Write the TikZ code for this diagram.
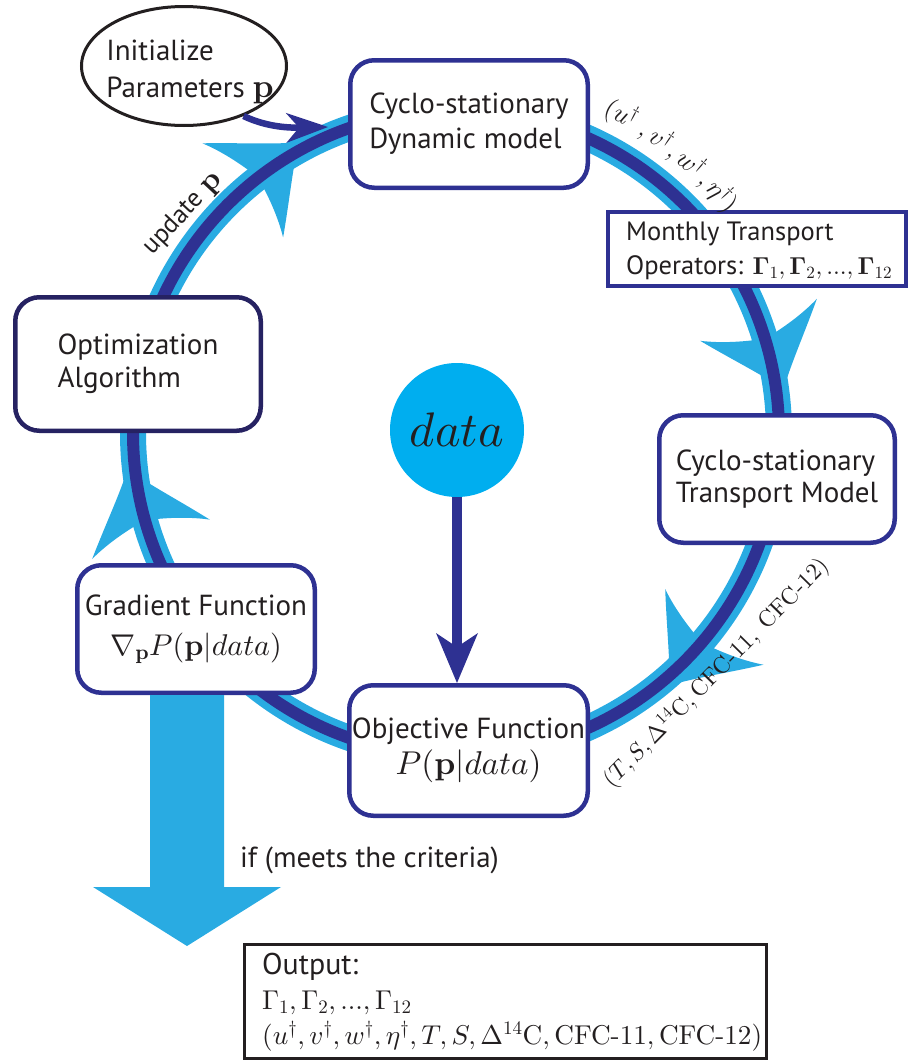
\documentclass[tikz,border=0pt]{standalone}
\usepackage[no-math]{fontspec}
\DeclareFontFamily{OT1}{cmr}{\hyphenchar\font45 }
\DeclareFontShape{OT1}{cmr}{m}{n}{<->cmr10}{}
\DeclareFontShape{OT1}{cmr}{bx}{n}{<->cmbx10}{}
\DeclareFontFamily{OML}{cmm}{\skewchar\font127 }
\DeclareFontShape{OML}{cmm}{m}{it}{<->cmmi10}{}
\DeclareFontFamily{OMS}{cmsy}{\skewchar\font48 }
\DeclareFontShape{OMS}{cmsy}{m}{n}{<->cmsy10}{}
\DeclareFontFamily{OMX}{cmex}{}
\DeclareFontShape{OMX}{cmex}{m}{n}{<->cmex10}{}
\newfontfamily\ptsans{PT Sans}
\usetikzlibrary{arrows.meta,shapes.geometric,calc}
\definecolor{lblue}{RGB}{41,171,226}
\definecolor{dblue}{RGB}{46,49,146}
\definecolor{nblue}{RGB}{38,34,98}
\definecolor{cyanc}{RGB}{0,174,239}
\definecolor{txt}{RGB}{35,31,32}
\newcommand{\cfcdash}{\mathchar"002D\relax}
\tikzset{
  cbox/.style={draw=dblue, line width=4.5pt, rounded corners=24pt, fill=white, inner sep=0pt, text=txt},
  rhead/.pic={\fill[lblue] (70,0) .. controls (50,14) and (25,38) .. (-4,62)
      .. controls (6,42) and (12,20) .. (16,0)
      .. controls (12,-20) and (6,-42) .. (-4,-62)
      .. controls (25,-38) and (50,-14) .. (70,0) -- cycle;},
  mlab/.style={text=txt, inner sep=0pt, font=\fontsize{#1}{28}\selectfont},
  mlab/.default=26
}
\begin{document}
\begin{tikzpicture}[x=1pt,y=1pt]
\useasboundingbox (0,0) rectangle (910,-1063);
\coordinate (C) at (456,-433);
% ring
\draw[lblue, line width=26pt] (C) circle[radius=323];
\pic[rotate=40.6] at ($(C)+(130.6:323)$) {rhead};
\pic[rotate=-70.2] at ($(C)+(19.8:323)$) {rhead};
\pic[rotate=-127.6] at ($(C)+(-37.6:323)$) {rhead};
\pic[rotate=-251.5] at ($(C)+(-161.5:323)$) {rhead};
\draw[dblue, line width=12pt] (C) circle[radius=323];

% initialize ellipse and arrow
\node[ellipse, draw=txt, line width=3pt, minimum width=205pt, minimum height=119pt, inner sep=0pt, fill=white] (init) at (184,-66) {};
\node[align=left, text=txt, inner sep=0pt, font=\ptsans\fontsize{29}{37}\selectfont] (initT) at (190,-72) {Initialize\\Parameters {\fontsize{33}{37}\selectfont$\mathbf{p}$}};
\coordinate (ijoin) at (328,-127);
\draw[dblue, line width=6.5pt, -{Stealth[length=42pt,width=30pt,inset=13pt,line width=0pt]}] (init.-40) .. controls (260,-124) and (280,-128) .. (ijoin);

% boxes
\node[cbox, minimum width=237.5pt, minimum height=127.5pt, align=left, font=\ptsans\fontsize{29}{35}\selectfont] (dyn) at (469,-124) {Cyclo-stationary\\Dynamic model};
\node[cbox, minimum width=235.5pt, minimum height=127.5pt, align=left, font=\ptsans\fontsize{29}{32}\selectfont] (trans) at (777,-479) {Cyclo-stationary\\Transport Model};
\node[cbox, minimum width=238.5pt, minimum height=130.5pt, align=center, font=\ptsans\fontsize{29}{36}\selectfont] (obj) at (468.5,-750.5) {Objective Function\\{\fontsize{33}{36}\selectfont$P(\mathbf{p}|data)$}};
\node[cbox, minimum width=237.5pt, minimum height=127.5pt, align=center, font=\ptsans\fontsize{29}{40}\selectfont] (grad) at (196,-629) {Gradient Function\\{\fontsize{30}{40}\selectfont$\nabla_{\mathbf{p}}P(\mathbf{p}|data)$}};
\node[cbox, draw=nblue, minimum width=245.5pt, minimum height=133.5pt, align=left, font=\ptsans\fontsize{29}{33}\selectfont] (opt) at (138,-364) {Optimization\\Algorithm};

% monthly transport operators box
\node[draw=dblue, line width=4pt, fill=white, minimum width=298pt, minimum height=74pt, inner sep=0pt] (month) at (757,-249) {};
\node[anchor=west, align=left, text=txt, inner sep=0pt, font=\ptsans\fontsize{26.5}{34}\selectfont] (monthT) at (626,-251) {Monthly Transport\\Operators: {\fontsize{24.5}{34}\selectfont$\mathbf{\Gamma}_1, \mathbf{\Gamma}_2, ..., \mathbf{\Gamma}_{12}$}};

% data circle and arrow
\node[circle, fill=cyanc, minimum size=134pt, inner sep=0pt, text=txt, font=\fontsize{48.5}{50}\selectfont] (data) at (457,-430) {$data$};
\draw[dblue, line width=10pt, -{Stealth[length=50pt,width=42pt,inset=14pt,line width=0pt]}] (data.south) -- (data.south |- obj.north);

% labels along the ring
\node[rotate=47, text=txt, inner sep=0pt, font=\ptsans\fontsize{26}{28}\selectfont] (upd) at (183,-214) {update {\fontsize{30}{30}\selectfont$\mathbf{p}$}};
\node[mlab, rotate=-27.5] (u1) at ($(C)+(62.6:359)$) {$(u^\dagger$};
\node[mlab, rotate=-34.1] (u2) at ($(C)+(56.0:358)$) {$,v^\dagger$};
\node[mlab, rotate=-40.0] (u3) at ($(C)+(49.8:357)$) {$,w^\dagger$};
\node[mlab, rotate=-47.5] (u4) at ($(C)+(42.6:356)$) {$,\eta^\dagger)$};
\node[mlab=23.5, rotate=45.5] (tslab) at (716,-673) {$(T,S,\Delta^{14}\mathrm{C},\mathrm{CFC}\cfcdash 11,\;\mathrm{CFC}\cfcdash 12)$};

% output arrow
\coordinate (otip) at (187,-946);
\fill[lblue] (150,-695) -- (224,-695) -- (224,-887) -- (281,-887) -- (otip) -- (93,-887) -- (150,-887) -- cycle;
\node[anchor=base west, text=txt, inner sep=0pt, font=\ptsans\fontsize{29}{30}\selectfont] (crit) at (240,-867) {if (meets the criteria)};

% output box
\node[draw=txt, line width=3pt, minimum width=522pt, minimum height=114pt, inner sep=0pt] (outbox) at (505.5,-1001.5) {};
\node[anchor=north west, align=left, text=txt, inner sep=0pt, font=\fontsize{27.2}{35}\selectfont] (outT) at (262,-953) {{\ptsans\fontsize{30}{35}\selectfont Output:}\\$\Gamma_1, \Gamma_2, ..., \Gamma_{12}$\\$(u^\dagger, v^\dagger, w^\dagger, \eta^\dagger, T, S, \Delta^{14}\mathrm{C}, \mathrm{CFC}\cfcdash 11, \mathrm{CFC}\cfcdash 12)$};
\end{tikzpicture}
\end{document}
